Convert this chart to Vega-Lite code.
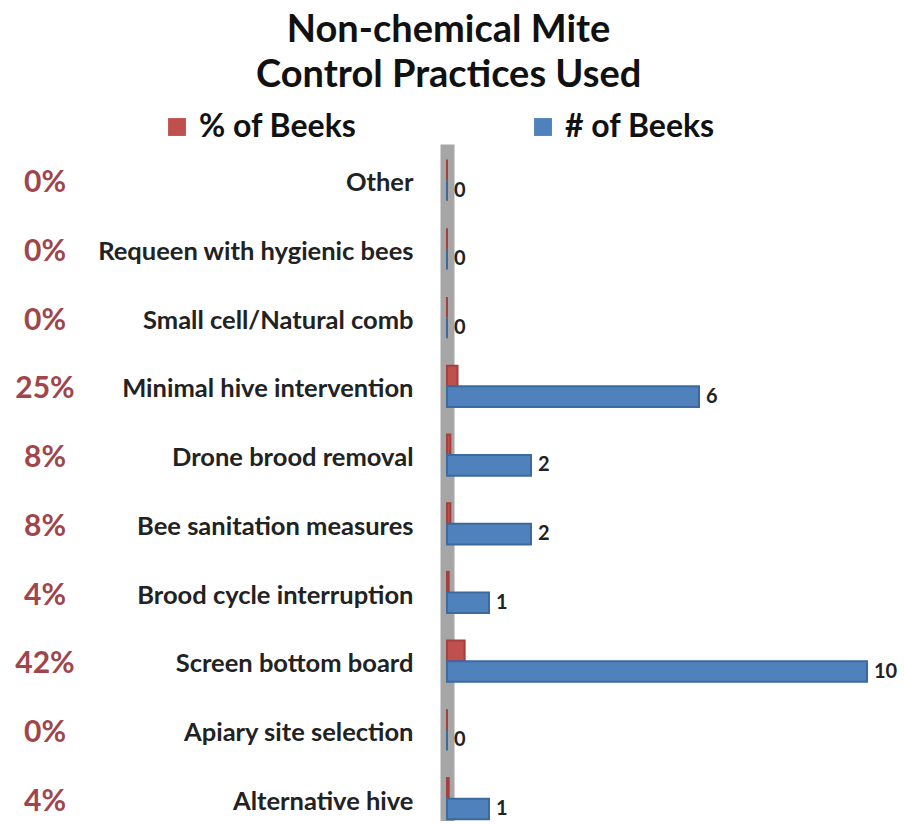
{
  "$schema": "https://vega.github.io/schema/vega-lite/v6.json",
  "background": "white",
  "padding": {"left": 0, "top": 12, "right": 0, "bottom": 0},
  "title": {
    "text": ["Non-chemical Mite", "Control Practices Used"],
    "font": "Lato",
    "fontSize": 38,
    "fontWeight": "bold",
    "lineHeight": 45,
    "color": "#111111",
    "anchor": "middle",
    "offset": 16
  },
  "data": {
    "values": [
      {"category": "Other", "series": "% of Beeks", "value": 0, "label": "0%"},
      {"category": "Other", "series": "# of Beeks", "value": 0, "label": "0"},
      {"category": "Requeen with hygienic bees", "series": "% of Beeks", "value": 0, "label": "0%"},
      {"category": "Requeen with hygienic bees", "series": "# of Beeks", "value": 0, "label": "0"},
      {"category": "Small cell/Natural comb", "series": "% of Beeks", "value": 0, "label": "0%"},
      {"category": "Small cell/Natural comb", "series": "# of Beeks", "value": 0, "label": "0"},
      {"category": "Minimal hive intervention", "series": "% of Beeks", "value": 0.25, "label": "25%"},
      {"category": "Minimal hive intervention", "series": "# of Beeks", "value": 6, "label": "6"},
      {"category": "Drone brood removal", "series": "% of Beeks", "value": 0.08, "label": "8%"},
      {"category": "Drone brood removal", "series": "# of Beeks", "value": 2, "label": "2"},
      {"category": "Bee sanitation measures", "series": "% of Beeks", "value": 0.08, "label": "8%"},
      {"category": "Bee sanitation measures", "series": "# of Beeks", "value": 2, "label": "2"},
      {"category": "Brood cycle interruption", "series": "% of Beeks", "value": 0.04, "label": "4%"},
      {"category": "Brood cycle interruption", "series": "# of Beeks", "value": 1, "label": "1"},
      {"category": "Screen bottom board", "series": "% of Beeks", "value": 0.42, "label": "42%"},
      {"category": "Screen bottom board", "series": "# of Beeks", "value": 10, "label": "10"},
      {"category": "Apiary site selection", "series": "% of Beeks", "value": 0, "label": "0%"},
      {"category": "Apiary site selection", "series": "# of Beeks", "value": 0, "label": "0"},
      {"category": "Alternative hive", "series": "% of Beeks", "value": 0.04, "label": "4%"},
      {"category": "Alternative hive", "series": "# of Beeks", "value": 1, "label": "1"}
    ]
  },
  "spacing": 0,
  "resolve": {"scale": {"y": "independent"}},
  "hconcat": [
    {
      "width": 90,
      "height": 677,
      "transform": [{"filter": "datum.series === '% of Beeks'"}],
      "mark": {"type": "text", "font": "Lato", "fontWeight": "bold", "fontSize": 30, "color": "#a0454b", "dy": 3, "baseline": "middle"},
      "encoding": {
        "y": {
          "field": "category", "type": "nominal",
          "sort": ["Other", "Requeen with hygienic bees", "Small cell/Natural comb", "Minimal hive intervention", "Drone brood removal", "Bee sanitation measures", "Brood cycle interruption", "Screen bottom board", "Apiary site selection", "Alternative hive"],
          "scale": {"type": "band", "paddingInner": 0.4, "paddingOuter": 0.126, "align": 0.9},
          "axis": null
        },
        "text": {"field": "label"}
      }
    },
    {
      "width": 420,
      "height": 677,
      "encoding": {
        "y": {
          "field": "category", "type": "nominal",
          "sort": ["Other", "Requeen with hygienic bees", "Small cell/Natural comb", "Minimal hive intervention", "Drone brood removal", "Bee sanitation measures", "Brood cycle interruption", "Screen bottom board", "Apiary site selection", "Alternative hive"],
          "scale": {"type": "band", "paddingInner": 0.4, "paddingOuter": 0.126, "align": 0.9},
          "axis": {
            "title": null,
            "ticks": false,
            "domainColor": "#a6a6a6",
            "domainWidth": 14,
            "labelFont": "Lato",
            "labelFontSize": 25.5,
            "labelFontWeight": "bold",
            "labelColor": "#222222",
            "labelPadding": 34,
            "labelOffset": 3,
            "labelLimit": 350,
            "minExtent": 357,
            "maxExtent": 357
          }
        },
        "yOffset": {"field": "series", "type": "nominal", "scale": {"domain": ["% of Beeks", "# of Beeks"]}},
        "x": {"field": "value", "type": "quantitative", "scale": {"domain": [0, 10], "nice": false}, "axis": null}
      },
      "layer": [
        {
          "mark": {"type": "bar", "strokeWidth": 2},
          "encoding": {
            "color": {
              "field": "series", "type": "nominal",
              "scale": {"domain": ["% of Beeks", "# of Beeks"], "range": ["#c0504d", "#4f81bd"]},
              "legend": {
                "title": null,
                "orient": "none",
                "direction": "horizontal",
                "legendX": 161,
                "legendY": -33,
                "symbolType": "square",
                "symbolSize": 320,
                "symbolStrokeWidth": 0,
                "labelFont": "Lato",
                "labelFontSize": 32,
                "labelFontWeight": "bold",
                "labelColor": "#111111",
                "labelLimit": 400,
                "labelOffset": 6,
                "columnPadding": 170
              }
            },
            "stroke": {
              "field": "series", "type": "nominal",
              "scale": {"domain": ["% of Beeks", "# of Beeks"], "range": ["#a33f3c", "#3c6a9e"]},
              "legend": null
            }
          }
        },
        {
          "transform": [{"filter": "datum.series === '# of Beeks'"}],
          "mark": {"type": "text", "align": "left", "baseline": "middle", "dx": 7, "font": "Lato", "fontWeight": "bold", "fontSize": 20, "color": "#222222"},
          "encoding": {"text": {"field": "label"}}
        }
      ]
    }
  ],
  "config": {"view": {"stroke": null}}
}
